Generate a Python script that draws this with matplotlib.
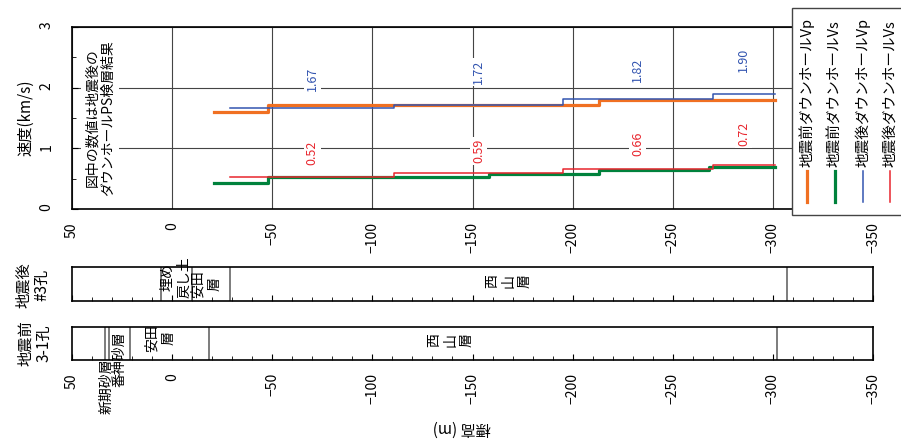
import matplotlib.pyplot as plt
from matplotlib.lines import Line2D
from matplotlib.patches import Rectangle
import numpy as np

plt.rcParams['font.family'] = ['Noto Sans CJK JP', 'DejaVu Sans']

# PS logging results: layer edges (elevation, m) and velocities (km/s)
pre_edges = [-21, -48, -158, -213, -268, -301]
pre_vp = [1.60, 1.71, 1.71, 1.80, 1.80]
pre_vs = [0.43, 0.52, 0.58, 0.65, 0.70]

post_edges = [-29, -111, -195, -270, -301]
post_vp = [1.67, 1.72, 1.82, 1.90]
post_vs = [0.52, 0.59, 0.66, 0.72]

# geological columns of the two boreholes
post_bounds = [5.7, -10, -29, -307]
post_layers = ['埋め\n戻し土', '安田\n層', '西\n山\n層']
pre_bounds = [33.4, 31.7, 21, -18.4, -302]
pre_layers = ['新期砂層', '番神砂層', '安田\n層', '西\n山\n層']

elev_ticks = [50, 0, -50, -100, -150, -200, -250, -300, -350]
legend_labels = ['地震前ダウンホールVp', '地震前ダウンホールVs',
                 '地震後ダウンホールVp', '地震後ダウンホールVs']

c_pre_p = '#f07022'
c_pre_s = '#00823c'
c_post_p = '#3355b0'
c_post_s = '#e8262e'

W, H = 901, 444
fig = plt.figure(figsize=(W / 100, H / 100), dpi=100)


def fx(px):
    return px / W


def fy(py):
    return 1 - py / H


def steps(ax, edges, vals, **kw):
    ax.step(edges, list(vals) + [vals[-1]], where='post', **kw)


# velocity profile
ax = fig.add_axes([fx(72), fy(209), fx(801), 182 / H])
ax.set_xlim(50, -350)
ax.set_ylim(0, 3)
ax.set_xticks(elev_ticks)
ax.set_yticks([0, 1, 2, 3])
ax.set_yticks([0.5, 1.5, 2.5], minor=True)
ax.tick_params(axis='x', length=0, pad=9.5, labelsize=10, labelrotation=90)
ax.tick_params(axis='y', which='both', direction='in', pad=13.5, labelsize=10,
               labelrotation=90)
ax.tick_params(axis='y', which='major', length=4)
ax.tick_params(axis='y', which='minor', length=3)
ax.grid(True, color='#444444', lw=0.8)
for s in ax.spines.values():
    s.set_linewidth(1.2)

steps(ax, pre_edges, pre_vp, color=c_pre_p, lw=2.3, zorder=3)
steps(ax, pre_edges, pre_vs, color=c_pre_s, lw=2.3, zorder=3)
steps(ax, post_edges, post_vp, color=c_post_p, lw=1.1, zorder=4)
steps(ax, post_edges, post_vs, color=c_post_s, lw=1.1, zorder=4)

# post-earthquake values written over each layer
vp_offsets = [0.47, 0.54, 0.47, 0.56]
vs_offsets = [0.40, 0.37, 0.41, 0.52]
for i in range(len(post_vp)):
    xm = (post_edges[i] + post_edges[i + 1]) / 2
    ax.text(xm, post_vp[i] + vp_offsets[i], f'{post_vp[i]:.2f}', rotation=90,
            ha='center', va='center', fontsize=9, color=c_post_p, zorder=6,
            bbox=dict(boxstyle='square,pad=0.15', fc='white', ec='none'))
    ax.text(xm, post_vs[i] + vs_offsets[i], f'{post_vs[i]:.2f}', rotation=90,
            ha='center', va='center', fontsize=9, color=c_post_s, zorder=6,
            bbox=dict(boxstyle='square,pad=0.15', fc='white', ec='none'))

ax.text(36, 1.5, '図中の数値は地震後の\nダウンホールPS検層結果', rotation=90,
        ha='center', va='center', fontsize=10, linespacing=1.1, zorder=6,
        bbox=dict(boxstyle='square,pad=0.35', fc='white', ec='none'))

fig.text(fx(26), fy(118), '速度(km/s)', rotation=90, ha='center', va='center',
         fontsize=11)

# legend drawn as vertical columns
fig.add_artist(Rectangle((fx(792), fy(215)), fx(120), 207 / H,
                         transform=fig.transFigure, fc='white', ec='#444444',
                         lw=1, zorder=10))
leg_x = [807, 835, 863, 890]
leg_c = [c_pre_p, c_pre_s, c_post_p, c_post_s]
leg_w = [2.3, 2.3, 1.1, 1.1]
for x, lab, c, w in zip(leg_x, legend_labels, leg_c, leg_w):
    fig.add_artist(Line2D([fx(x), fx(x)], [fy(171), fy(202)], color=c, lw=w,
                          transform=fig.transFigure, zorder=11))
    fig.text(fx(x), fy(167), lab, rotation=90, ha='center', va='bottom',
             fontsize=10.5, zorder=11)


def column(rect, bounds, show_labels):
    a = fig.add_axes(rect)
    a.set_xlim(50, -350)
    a.set_ylim(0, 1)
    a.set_yticks([])
    a.set_xticks(elev_ticks)
    a.set_xticks(np.arange(50, -351, -10), minor=True)
    a.tick_params(axis='x', which='both', direction='in', labelsize=10,
                  labelrotation=90, pad=9.5, labelbottom=show_labels)
    a.tick_params(axis='x', which='major', length=4)
    a.tick_params(axis='x', which='minor', length=3)
    for s in a.spines.values():
        s.set_linewidth(1.2)
    for b in bounds:
        a.axvline(b, color='#666666', lw=1.2)
    return a


ax_post = column([fx(72), fy(301), fx(801), 34 / H], post_bounds, False)
ax_pre = column([fx(72), fy(360), fx(801), 33 / H], pre_bounds, True)

post_pos = [(-2, 0.08, 'bottom'), (-17, 0.08, 'bottom'), (-168, 0.6, 'center')]
for lab, (x, y, va) in zip(post_layers, post_pos):
    ax_post.text(x, y, lab, rotation=90, ha='center', va=va, fontsize=10,
                 linespacing=1.2, clip_on=False)

pre_pos = [(33, -0.8, 'center'), (26.5, 0.03, 'center'), (6, 0.24, 'bottom'),
           (-139, 0.6, 'center')]
for lab, (x, y, va) in zip(pre_layers, pre_pos):
    ax_pre.text(x, y, lab, rotation=90, ha='center', va=va, fontsize=10,
                linespacing=1.2, clip_on=False)

fig.text(fx(33), fy(285), '地震後\n#3孔', rotation=90, ha='center', va='center',
         fontsize=11, linespacing=1.1)
fig.text(fx(35), fy(343), '地震前\n3-1孔', rotation=90, ha='center', va='center',
         fontsize=11, linespacing=1.1)

fig.text(fx(462), fy(428), '標高 (m)', rotation=180, ha='center', va='center',
         fontsize=11)

fig.savefig('out.png', dpi=100)
